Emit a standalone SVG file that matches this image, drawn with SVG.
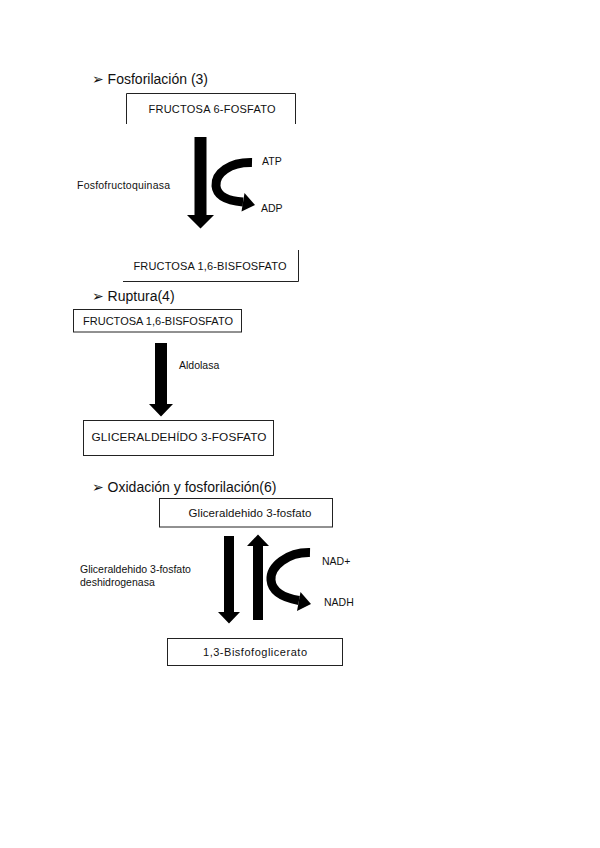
<svg xmlns="http://www.w3.org/2000/svg" width="600" height="848" viewBox="0 0 600 848">
<defs>
<style>
.bg{fill:#fff}
.box{fill:none;stroke:#222;stroke-width:1}
.t{font-family:"Liberation Sans","DejaVu Sans",Arial,sans-serif;fill:#111}
.h{font-size:14px}
.b{font-size:11px;text-anchor:middle}
.s{font-size:10.5px}
.arr{fill:#000}
.curve{fill:none;stroke:#000;stroke-width:9}
</style>
</defs>
<rect class="bg" x="0" y="0" width="600" height="848"/>

<text class="t h" x="92" y="84">➢ Fosforilación (3)</text>
<text class="t h" x="92" y="301">➢ Ruptura(4)</text>
<text class="t h" x="92" y="492">➢ Oxidación y fosforilación(6)</text>

<g id="n1">
<path class="box" d="M126.5,124 V93.5 H295.5 V124"/>
<text class="t b" x="212" y="113" textLength="127">FRUCTOSA 6-FOSFATO</text>
</g>
<g id="n2">
<path class="box" d="M123,281.5 H298.5 V250"/>
<text class="t b" x="210" y="270" textLength="153">FRUCTOSA 1,6-BISFOSFATO</text>
</g>
<g id="n3">
<rect class="box" x="73.5" y="309.5" width="168" height="22.5"/>
<text class="t b" x="158" y="324.5" textLength="150">FRUCTOSA 1,6-BISFOSFATO</text>
</g>
<g id="n4">
<rect class="box" x="83.5" y="420.5" width="190" height="35"/>
<text class="t b" x="179" y="441" textLength="175" style="font-size:11.8px">GLICERALDEHÍDO 3-FOSFATO</text>
</g>
<g id="n5">
<rect class="box" x="159.5" y="498.5" width="173" height="28.5"/>
<text class="t b" x="250" y="516.5" textLength="123" style="font-size:11.5px">Gliceraldehido 3-fosfato</text>
</g>
<g id="n6">
<rect class="box" x="167.5" y="638.5" width="175" height="27"/>
<text class="t b" x="255" y="656" textLength="104">1,3-Bisfofoglicerato</text>
</g>

<g id="labels">
<text class="t s" x="77" y="189" textLength="93">Fosfofructoquinasa</text>
<text class="t s" x="262" y="165">ATP</text>
<text class="t s" x="261" y="212">ADP</text>
<text class="t s" x="179" y="369">Aldolasa</text>
<text class="t s" x="80" y="573">Gliceraldehido 3-fosfato</text>
<text class="t s" x="80" y="586">deshidrogenasa</text>
<text class="t s" x="322" y="565">NAD+</text>
<text class="t s" x="324" y="606">NADH</text>
</g>

<g id="connectors">
<polygon class="arr" points="194.5,137 206.5,137 206.5,215 214,215 200.5,228.5 187,215 194.5,215"/>
<path class="curve" d="M252,162.5 C230,162 215,173 216,186 C217,197 230,201 243,202"/>
<polygon class="arr" points="255,205 244.5,193 241.5,211.5"/>

<polygon class="arr" points="155,343 167,343 167,404 173,404 161,416.5 149,404 155,404"/>

<polygon class="arr" points="224,536 234,536 234,612 240,612 229,623.5 218,612 224,612"/>
<polygon class="arr" points="253,620 263,620 263,546 269,546 258,534.5 247,546 253,546"/>
<path class="curve" d="M310,552.5 C288,552 270,566 271,580 C272,593 285,598 299,600.5"/>
<polygon class="arr" points="311,604 300.5,592 297,611"/>
</g>
</svg>
